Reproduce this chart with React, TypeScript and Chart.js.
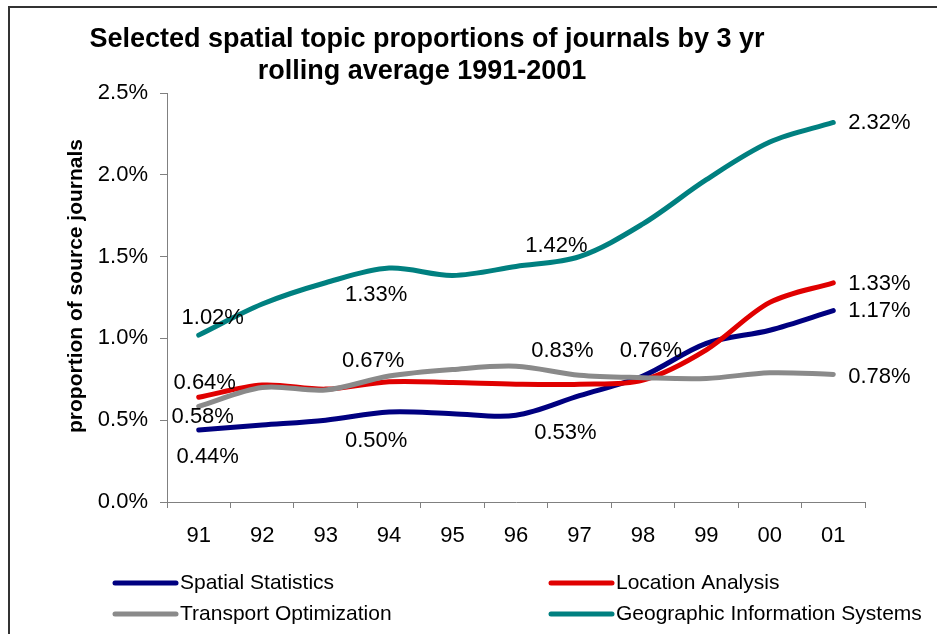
import React, { useEffect, useRef } from 'react';
import { Chart, registerables } from 'chart.js';

Chart.register(...registerables);

// ---------- data ----------
const categories = ['91', '92', '93', '94', '95', '96', '97', '98', '99', '00', '01'];
const spatialStatistics = [0.44, 0.47, 0.5, 0.55, 0.54, 0.53, 0.65, 0.77, 0.97, 1.05, 1.17];
const locationAnalysis = [0.64, 0.715, 0.69, 0.735, 0.73, 0.72, 0.72, 0.745, 0.93, 1.22, 1.34];
const transportOptimization = [0.585, 0.7, 0.685, 0.77, 0.81, 0.83, 0.775, 0.76, 0.755, 0.79, 0.78];
const geographicInformationSystems = [1.02, 1.21, 1.34, 1.43, 1.385, 1.44, 1.5, 1.7, 1.97, 2.2, 2.32];

const yTickValues = [0, 0.5, 1.0, 1.5, 2.0, 2.5];

// data labels: category index and label value (percent)
const spatialLabelIndex = [0, 3, 6, 10];
const spatialLabelValues = [0.44, 0.5, 0.53, 1.17];
const locationLabelIndex = [0, 10];
const locationLabelValues = [0.64, 1.33];
const transportLabelIndex = [0, 3, 6, 7, 10];
const transportLabelValues = [0.58, 0.67, 0.83, 0.76, 0.78];
const gisLabelIndex = [0, 3, 6, 10];
const gisLabelValues = [1.02, 1.33, 1.42, 2.32];

const titleLines = ['Selected spatial topic proportions of journals by 3 yr', 'rolling average 1991-2001'];
const yAxisTitle = 'proportion of source journals';

// ---------- styles ----------
const FONT = '"Liberation Sans", Arial, Helvetica, sans-serif';
const COLORS = {
  spatial: '#000080',
  location: '#e00000',
  transport: '#8a8a8a',
  gis: '#008080',
  axis: '#808080',
};

// label offsets [dx, dy, align] per label, in the same order as the label arrays
const spatialLabelOffsets: [number, number, CanvasTextAlign][] = [[9, 27, 'center'], [-13, 29, 'center'], [-14, 37, 'center'], [15, 0, 'left']];
const locationLabelOffsets: [number, number, CanvasTextAlign][] = [[6, -14, 'center'], [15, 1, 'left']];
const transportLabelOffsets: [number, number, CanvasTextAlign][] = [[4, 11, 'center'], [-16, -15, 'center'], [-17, -24, 'center'], [8, -27, 'center'], [15, 3, 'left']];
const gisLabelOffsets: [number, number, CanvasTextAlign][] = [[14, -17, 'center'], [-13, 27, 'center'], [-23, -11, 'center'], [15, 0, 'left']];

const labelGroups = [
  { series: spatialStatistics, idx: spatialLabelIndex, vals: spatialLabelValues, offs: spatialLabelOffsets },
  { series: locationAnalysis, idx: locationLabelIndex, vals: locationLabelValues, offs: locationLabelOffsets },
  { series: transportOptimization, idx: transportLabelIndex, vals: transportLabelValues, offs: transportLabelOffsets },
  { series: geographicInformationSystems, idx: gisLabelIndex, vals: gisLabelValues, offs: gisLabelOffsets },
];

const legendItems = [
  { label: 'Spatial Statistics', color: COLORS.spatial, col: 0, row: 0 },
  { label: 'Location Analysis', color: COLORS.location, col: 1, row: 0 },
  { label: 'Transport Optimization', color: COLORS.transport, col: 0, row: 1 },
  { label: 'Geographic Information Systems', color: COLORS.gis, col: 1, row: 1 },
];

const customDraw = {
  id: 'customDraw',
  afterDatasetsDraw(chart: any) {
    const ctx = chart.ctx as CanvasRenderingContext2D;
    const xs = chart.scales.x;
    const ys = chart.scales.y;
    ctx.save();
    ctx.fillStyle = '#000';
    ctx.font = `22px ${FONT}`;
    ctx.textBaseline = 'middle';
    for (const g of labelGroups) {
      g.idx.forEach((ci, k) => {
        const [dx, dy, align] = g.offs[k];
        const px = xs.getPixelForValue(ci);
        const py = ys.getPixelForValue(g.series[ci]);
        ctx.textAlign = align;
        ctx.fillText(g.vals[k].toFixed(2) + '%', px + dx, py + dy);
      });
    }
    ctx.restore();
  },
  afterDraw(chart: any) {
    const ctx = chart.ctx as CanvasRenderingContext2D;
    ctx.save();
    // title
    ctx.fillStyle = '#000';
    ctx.font = `bold 27px ${FONT}`;
    ctx.textAlign = 'center';
    ctx.textBaseline = 'middle';
    ctx.fillText(titleLines[0], 427, 40);
    ctx.fillText(titleLines[1], 422, 72);
    // y axis title
    ctx.save();
    ctx.translate(76, 286);
    ctx.rotate(-Math.PI / 2);
    ctx.font = `bold 21px ${FONT}`;
    ctx.fillText(yAxisTitle, 0, 0);
    ctx.restore();
    // legend
    const colX = [113, 549];
    const rowY = [583, 614];
    ctx.font = `21px ${FONT}`;
    ctx.textAlign = 'left';
    for (const it of legendItems) {
      const x0 = colX[it.col];
      const y0 = rowY[it.row];
      ctx.strokeStyle = it.color;
      ctx.lineWidth = 5;
      ctx.lineCap = 'round';
      ctx.beginPath();
      ctx.moveTo(x0 + 2, y0);
      ctx.lineTo(x0 + 63, y0);
      ctx.stroke();
      ctx.fillText(it.label, x0 + 67, y0);
    }
    ctx.restore();
  },
};

export default function App() {
  const canvasRef = useRef<HTMLCanvasElement | null>(null);

  useEffect(() => {
    if (!canvasRef.current) return;
    const ds = (label: string, data: number[], color: string) => ({
      label,
      data,
      borderColor: color,
      backgroundColor: color,
      borderWidth: 5,
      borderCapStyle: 'round' as const,
      borderJoinStyle: 'round' as const,
      pointRadius: 0,
      tension: 0.33,
      fill: false,
    });
    const chart = new Chart(canvasRef.current, {
      type: 'line',
      data: {
        labels: categories,
        // first dataset is drawn on top in Chart.js
        datasets: [
          ds('Geographic Information Systems', geographicInformationSystems, COLORS.gis),
          ds('Transport Optimization', transportOptimization, COLORS.transport),
          ds('Location Analysis', locationAnalysis, COLORS.location),
          ds('Spatial Statistics', spatialStatistics, COLORS.spatial),
        ],
      },
      options: {
        responsive: false,
        animation: false,
        devicePixelRatio: 1,
        layout: { padding: { left: 0, top: 93, right: 72, bottom: 72 } },
        plugins: {
          legend: { display: false },
          title: { display: false },
          tooltip: { enabled: false },
        },
        scales: {
          x: {
            type: 'category',
            offset: true,
            grid: { offset: true, drawOnChartArea: false, drawTicks: true, tickLength: 6, color: COLORS.axis },
            border: { color: COLORS.axis, width: 1 },
            ticks: { color: '#000', font: { family: FONT, size: 22 }, padding: 15, maxRotation: 0, autoSkip: false },
            afterFit: (s: any) => { s.height = 60; },
          },
          y: {
            min: 0,
            max: 2.5,
            afterBuildTicks: (s: any) => { s.ticks = yTickValues.map((v) => ({ value: v })); },
            grid: { drawOnChartArea: false, drawTicks: true, tickLength: 7, color: COLORS.axis },
            border: { color: COLORS.axis, width: 1 },
            ticks: {
              color: '#000',
              font: { family: FONT, size: 22 },
              padding: 12,
              callback: (v: any) => Number(v).toFixed(1) + '%',
            },
            afterFit: (s: any) => { s.width = 167; },
          },
        },
      },
      plugins: [customDraw],
    });
    return () => chart.destroy();
  }, []);

  return (
    <div style={{ position: 'fixed', left: 0, top: 0, width: 937, height: 634, background: '#fff', overflow: 'hidden' }}>
      <div
        style={{
          position: 'absolute',
          left: 8,
          top: 6,
          width: 960,
          height: 660,
          borderLeft: '2px solid #333',
          borderTop: '2px solid #333',
        }}
      />
      <canvas ref={canvasRef} width={937} height={634} style={{ position: 'absolute', left: 0, top: 0, width: 937, height: 634 }} />
    </div>
  );
}
